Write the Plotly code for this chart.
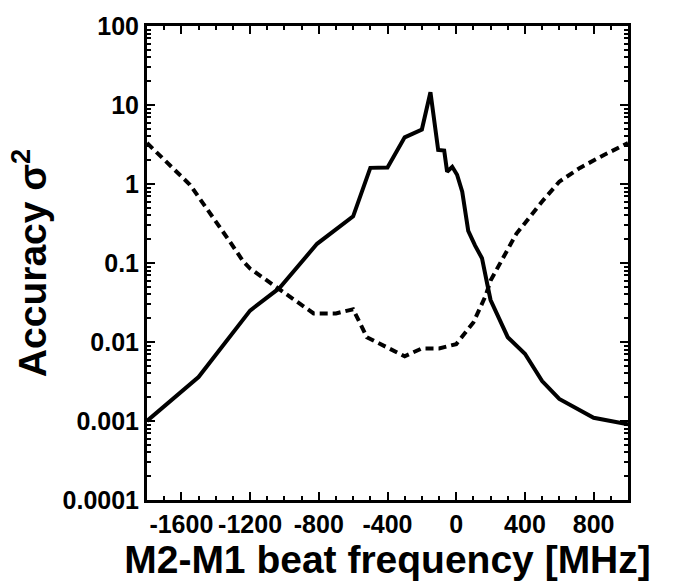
import plotly.graph_objects as go

# Solid curve
solid_x = [-1800, -1500, -1200, -1030, -810, -600, -500, -400, -300, -200, -150,
           -105, -70, -53, -23, 5, 35, 53, 70, 110, 150, 180, 200, 300, 400,
           500, 600, 800, 1000]
solid_y = [0.001, 0.0036, 0.025, 0.048, 0.175, 0.39, 1.6, 1.62, 3.9, 4.9, 14.5,
           2.7, 2.65, 1.43, 1.65, 1.31, 0.8, 0.42, 0.255, 0.166, 0.115, 0.055, 0.034,
           0.0115, 0.0071, 0.0032, 0.0019, 0.0011, 0.00091]

# Dashed curve
dash_x = [-1800, -1550, -1320, -1240, -1200, -1030, -900, -830, -700, -600, -520,
          -430, -300, -200, -100, 0, 100, 170, 200, 350, 500, 600, 720, 860, 1000]
dash_y = [3.3, 0.98, 0.19, 0.105, 0.085, 0.046, 0.029, 0.023, 0.023, 0.026, 0.0115,
          0.0092, 0.0066, 0.0083, 0.0083, 0.0094, 0.0177, 0.038, 0.06, 0.234, 0.6,
          1.07, 1.6, 2.33, 3.3]

x_ticks = [-1600, -1200, -800, -400, 0, 400, 800]
x_ticklabels = ["-1600", "-1200", "-800", "-400", "0", "400", "800"]
y_ticks = [0.0001, 0.001, 0.01, 0.1, 1, 10, 100]
y_ticklabels = ["0.0001", "0.001", "0.01", "0.1", "1", "10", "100"]

FONT = "Liberation Sans, Arial, Helvetica, sans-serif"

fig = go.Figure()
fig.add_trace(go.Scatter(x=dash_x, y=dash_y, mode="lines",
                         line=dict(color="black", width=4, dash="8px,5px"),
                         showlegend=False))
fig.add_trace(go.Scatter(x=solid_x, y=solid_y, mode="lines",
                         line=dict(color="black", width=4),
                         showlegend=False))

fig.update_layout(
    width=678, height=581,
    margin=dict(l=147, r=50, t=19, b=81),
    paper_bgcolor="white", plot_bgcolor="white",
    font=dict(family=FONT, color="black"),
    showlegend=False,
)

fig.update_xaxes(
    range=[-1800, 1000],
    tickmode="array", tickvals=x_ticks, ticktext=x_ticklabels,
    tickangle=0, ticklabeloverflow="allow",
    tickfont=dict(size=25, family=FONT, weight="bold"),
    ticks="inside", ticklen=8, tickwidth=2, tickcolor="black",
    minor=dict(dtick=100, tick0=0, ticks="inside", ticklen=4, tickwidth=2, tickcolor="black", showgrid=False),
    showline=True, linewidth=3, linecolor="black", mirror="allticks",
    showgrid=False, zeroline=False,
    title=dict(text="<b>M2-M1 beat frequency [MHz]</b>", font=dict(size=39, family=FONT), standoff=4),
)

fig.update_yaxes(
    type="log", range=[-4, 2],
    tickmode="array", tickvals=y_ticks, ticktext=y_ticklabels,
    ticklabeloverflow="allow",
    tickfont=dict(size=25, family=FONT, weight="bold"),
    ticks="inside", ticklen=8, tickwidth=2, tickcolor="black",
    minor=dict(dtick="D1", ticks="inside", ticklen=4, tickwidth=2, tickcolor="black", showgrid=False),
    showline=True, linewidth=3, linecolor="black", mirror="allticks",
    showgrid=False, zeroline=False,
    title=dict(text="<b>Accuracy σ<sup>2</sup></b>", font=dict(size=39, family=FONT), standoff=4),
)

fig.write_html("out.html", config={"displayModeBar": False},
               post_script="document.body.style.margin='0px';")
